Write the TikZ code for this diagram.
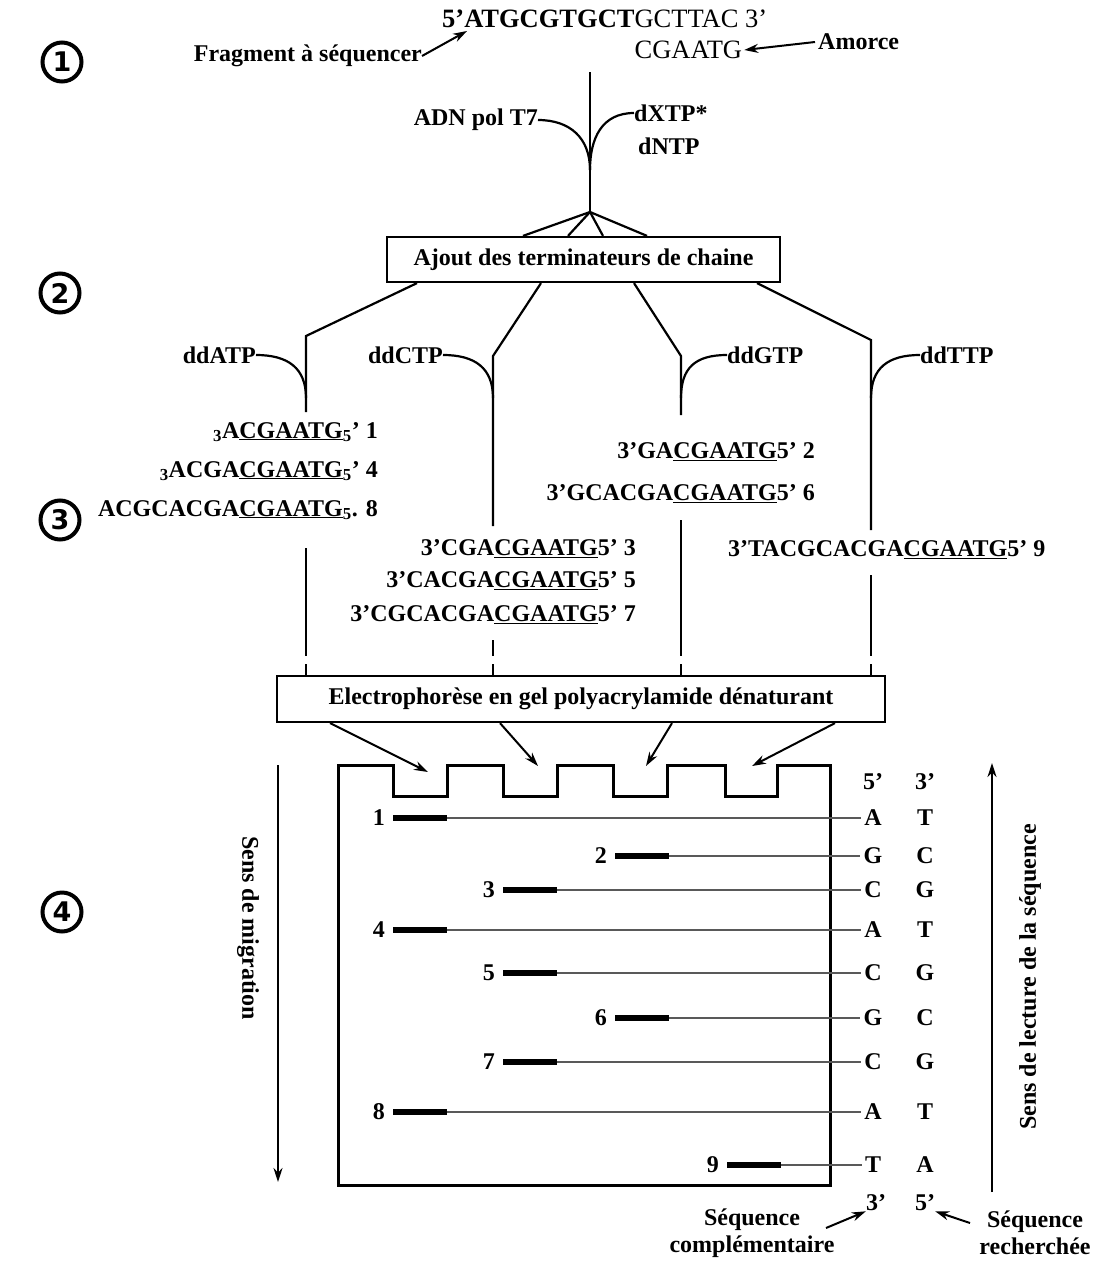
\documentclass[tikz,border=0pt]{standalone}
\usepackage{fontspec}
\setmainfont{Liberation Serif}
\newfontfamily\circfont{DejaVu Sans}
\usetikzlibrary{arrows.meta}
\newlength\boldw
\newcommand\seqU[1]{\underline{#1}}
\newcommand\topfont{\fontsize{26.5}{30}\selectfont}
\begin{document}
\settowidth{\boldw}{\topfont\bfseries 5’ATGCGTGCT}%
\begin{tikzpicture}[x=1pt,y=-1pt,
 ln/.style={line width=2.2pt},
 arr/.style={line width=2pt,-{Stealth[length=14pt,width=9pt]}},
 lbl/.style={font=\fontsize{24}{27}\selectfont\bfseries,inner sep=0pt},
 sq/.style={font=\fontsize{24}{27}\selectfont\bfseries,inner sep=0pt},
 tsq/.style={font=\topfont,inner sep=0pt},
 boxn/.style={draw,line width=2.2pt,font=\fontsize{24}{27}\selectfont\bfseries,inner sep=0pt},
 circ/.style={draw,circle,line width=4pt,minimum size=39pt,inner sep=0pt,font=\circfont\fontsize{27}{29}\selectfont\bfseries},
 band/.style={line width=6pt},
 thinl/.style={line width=1.4pt,black!65},
 gel/.style={line width=3pt},
]
\useasboundingbox (0,0) rectangle (1100,1263);
% step numbers
\node[circ] (c1) at (62,62) {1};
\node[circ] (c2) at (60,293) {2};
\node[circ] (c3) at (60,520) {3};
\node[circ] (c4) at (62,912) {4};
% top
\node[tsq,anchor=west] (top) at (442,19) {\bfseries 5’ATGCGTGCT\mdseries GCTTAC 3’};
\node[tsq,anchor=west] (primer) at ([xshift=\boldw,yshift=-31pt]top.west) {CGAATG};
\node[lbl,anchor=west] (amorce) at (818,42) {Amorce};
\node[lbl,anchor=east] (frag) at (422,56) {Fragment à séquencer};
\coordinate (fragtip) at (467,31);
\draw[arr] (frag.east) -- (fragtip);
\draw[arr] ([xshift=-3pt]amorce.west) -- ([xshift=2pt]primer.east);
% trunk
\coordinate (t0) at (590,72);
\coordinate (fan) at (590,212);
\coordinate (j1) at (590,170);
\draw[ln] (t0) -- (fan);
\node[lbl,anchor=east] (adn) at (538,120) {ADN pol T7};
\node[lbl,anchor=west] (dxtp) at (634,113) {dXTP*};
\node[lbl,anchor=west] (dntp) at (638,146) {dNTP};
\draw[ln] (adn.east) .. controls +(32,0) and +(0,-32) .. (j1);
\draw[ln] (dxtp.west) .. controls +(-32,0) and +(0,-32) .. (j1);
% box 1
\node[boxn,minimum width=393pt,minimum height=45pt] (ajout) at (583.5,259.5) {Ajout des terminateurs de chaine};
\foreach \x in {523,568,603,647} \draw[ln] (fan) -- (ajout.north -| \x,0);
% four columns
\draw[ln] (ajout.south -| 417,0) -- (306,336) -- (306,412);
\draw[ln] (ajout.south -| 541,0) -- (493,356) -- (493,526);
\draw[ln] (ajout.south -| 634,0) -- (681,356) -- (681,415);
\draw[ln] (ajout.south -| 757,0) -- (871,340) -- (871,530);
\node[lbl,anchor=east] (dda) at (256,355) {ddATP};
\node[lbl,anchor=east] (ddc) at (443,355) {ddCTP};
\node[lbl,anchor=west] (ddg) at (727,355) {ddGTP};
\node[lbl,anchor=west] (ddt) at (920,355) {ddTTP};
\draw[ln] (dda.east) .. controls +(32,0) and +(0,-30) .. (306,398);
\draw[ln] (ddc.east) .. controls +(32,0) and +(0,-30) .. (493,398);
\draw[ln] (ddg.west) .. controls +(-32,0) and +(0,-30) .. (681,398);
\draw[ln] (ddt.west) .. controls +(-32,0) and +(0,-30) .. (871,398);
% fragments
\node[sq,anchor=east] (s1) at (378,432) {\textsubscript{3}A\seqU{CGAATG}\textsubscript{5}’ 1};
\node[sq,anchor=east] (s4) at (378,471) {\textsubscript{3}ACGA\seqU{CGAATG}\textsubscript{5}’ 4};
\node[sq,anchor=east] (s8) at (378,510) {ACGCACGA\seqU{CGAATG}\textsubscript{5}. 8};
\node[sq,anchor=east] (s3) at (636,549) {3’CGA\seqU{CGAATG}5’ 3};
\node[sq,anchor=east] (s5) at (636,581) {3’CACGA\seqU{CGAATG}5’ 5};
\node[sq,anchor=east] (s7) at (636,615) {3’CGCACGA\seqU{CGAATG}5’ 7};
\node[sq,anchor=east] (s2) at (815,452) {3’GA\seqU{CGAATG}5’ 2};
\node[sq,anchor=east] (s6) at (815,494) {3’GCACGA\seqU{CGAATG}5’ 6};
\node[sq,anchor=west] (s9) at (728,550) {3’TACGCACGA\seqU{CGAATG}5’ 9};
% box 2
\node[boxn,minimum width=608pt,minimum height=46pt] (elec) at (581,699) {Electrophorèse en gel polyacrylamide dénaturant};
\foreach \x/\s in {306/548,493/640,681/520,871/575}{
  \draw[ln] (\x,\s) -- (\x,656);
  \draw[ln] (\x,664) -- (elec.north -| \x,0);
}
% arrows to wells
\coordinate (w1) at (428,772);
\coordinate (w2) at (538,766);
\coordinate (w3) at (646,766);
\coordinate (w4) at (752,766);
\draw[arr] (elec.south -| 330,0) -- (w1);
\draw[arr] (elec.south -| 500,0) -- (w2);
\draw[arr] (elec.south -| 672,0) -- (w3);
\draw[arr] (elec.south -| 835,0) -- (w4);
% gel
\draw[gel] (338,1185) -- (338,765) -- (393,765) -- (393,796) -- (447,796) -- (447,765)
  -- (503,765) -- (503,796) -- (557,796) -- (557,765) -- (613,765) -- (613,796)
  -- (667,796) -- (667,765) -- (725,765) -- (725,796) -- (777,796) -- (777,765)
  -- (830,765) -- (830,1185) -- cycle;
\node[lbl] (h5) at (873,782) {5’};
\node[lbl] (h3) at (925,782) {3’};
\foreach \n/\y/\xs/\l/\r in {1/818/393/A/T,2/856/615/G/C,3/890/503/C/G,4/930/393/A/T,5/973/503/C/G,6/1018/615/G/C,7/1062/503/C/G,8/1112/393/A/T,9/1165/727/T/A}{
  \node[lbl,anchor=east] (n\n) at (\xs-8,\y) {\n};
  \coordinate (bs\n) at (\xs,\y);
  \coordinate (be\n) at (\xs+54,\y);
  \node[lbl] (l\n) at (873,\y) {\l};
  \node[lbl] (r\n) at (925,\y) {\r};
  \draw[band] (bs\n) -- (be\n);
  \draw[thinl,shorten >=3pt] (be\n) -- (l\n.west);
}
\node[lbl] (f3) at (876,1203) {3’};
\node[lbl] (f5) at (925,1203) {5’};
% direction arrows
\coordinate (m0) at (278,765);
\coordinate (m1) at (278,1182);
\draw[arr] (m0) -- (m1);
\node[lbl,rotate=-90] (mig) at (248,928) {Sens de migration};
\coordinate (rd0) at (992,1192);
\coordinate (rd1) at (992,763);
\draw[arr] (rd0) -- (rd1);
\node[lbl,rotate=90] (lect) at (1030,977) {Sens de lecture de la séquence};
% bottom labels
\node[lbl,align=center] (comp) at (752,1233) {Séquence\\complémentaire};
\node[lbl,align=center] (rech) at (1035,1233) {Séquence\\recherchée};
\coordinate (ca) at (826,1228);
\coordinate (ra) at (970,1223);
\draw[arr] (ca) -- (f3.south west);
\draw[arr] (ra) -- (f5.south east);
\end{tikzpicture}
\end{document}
